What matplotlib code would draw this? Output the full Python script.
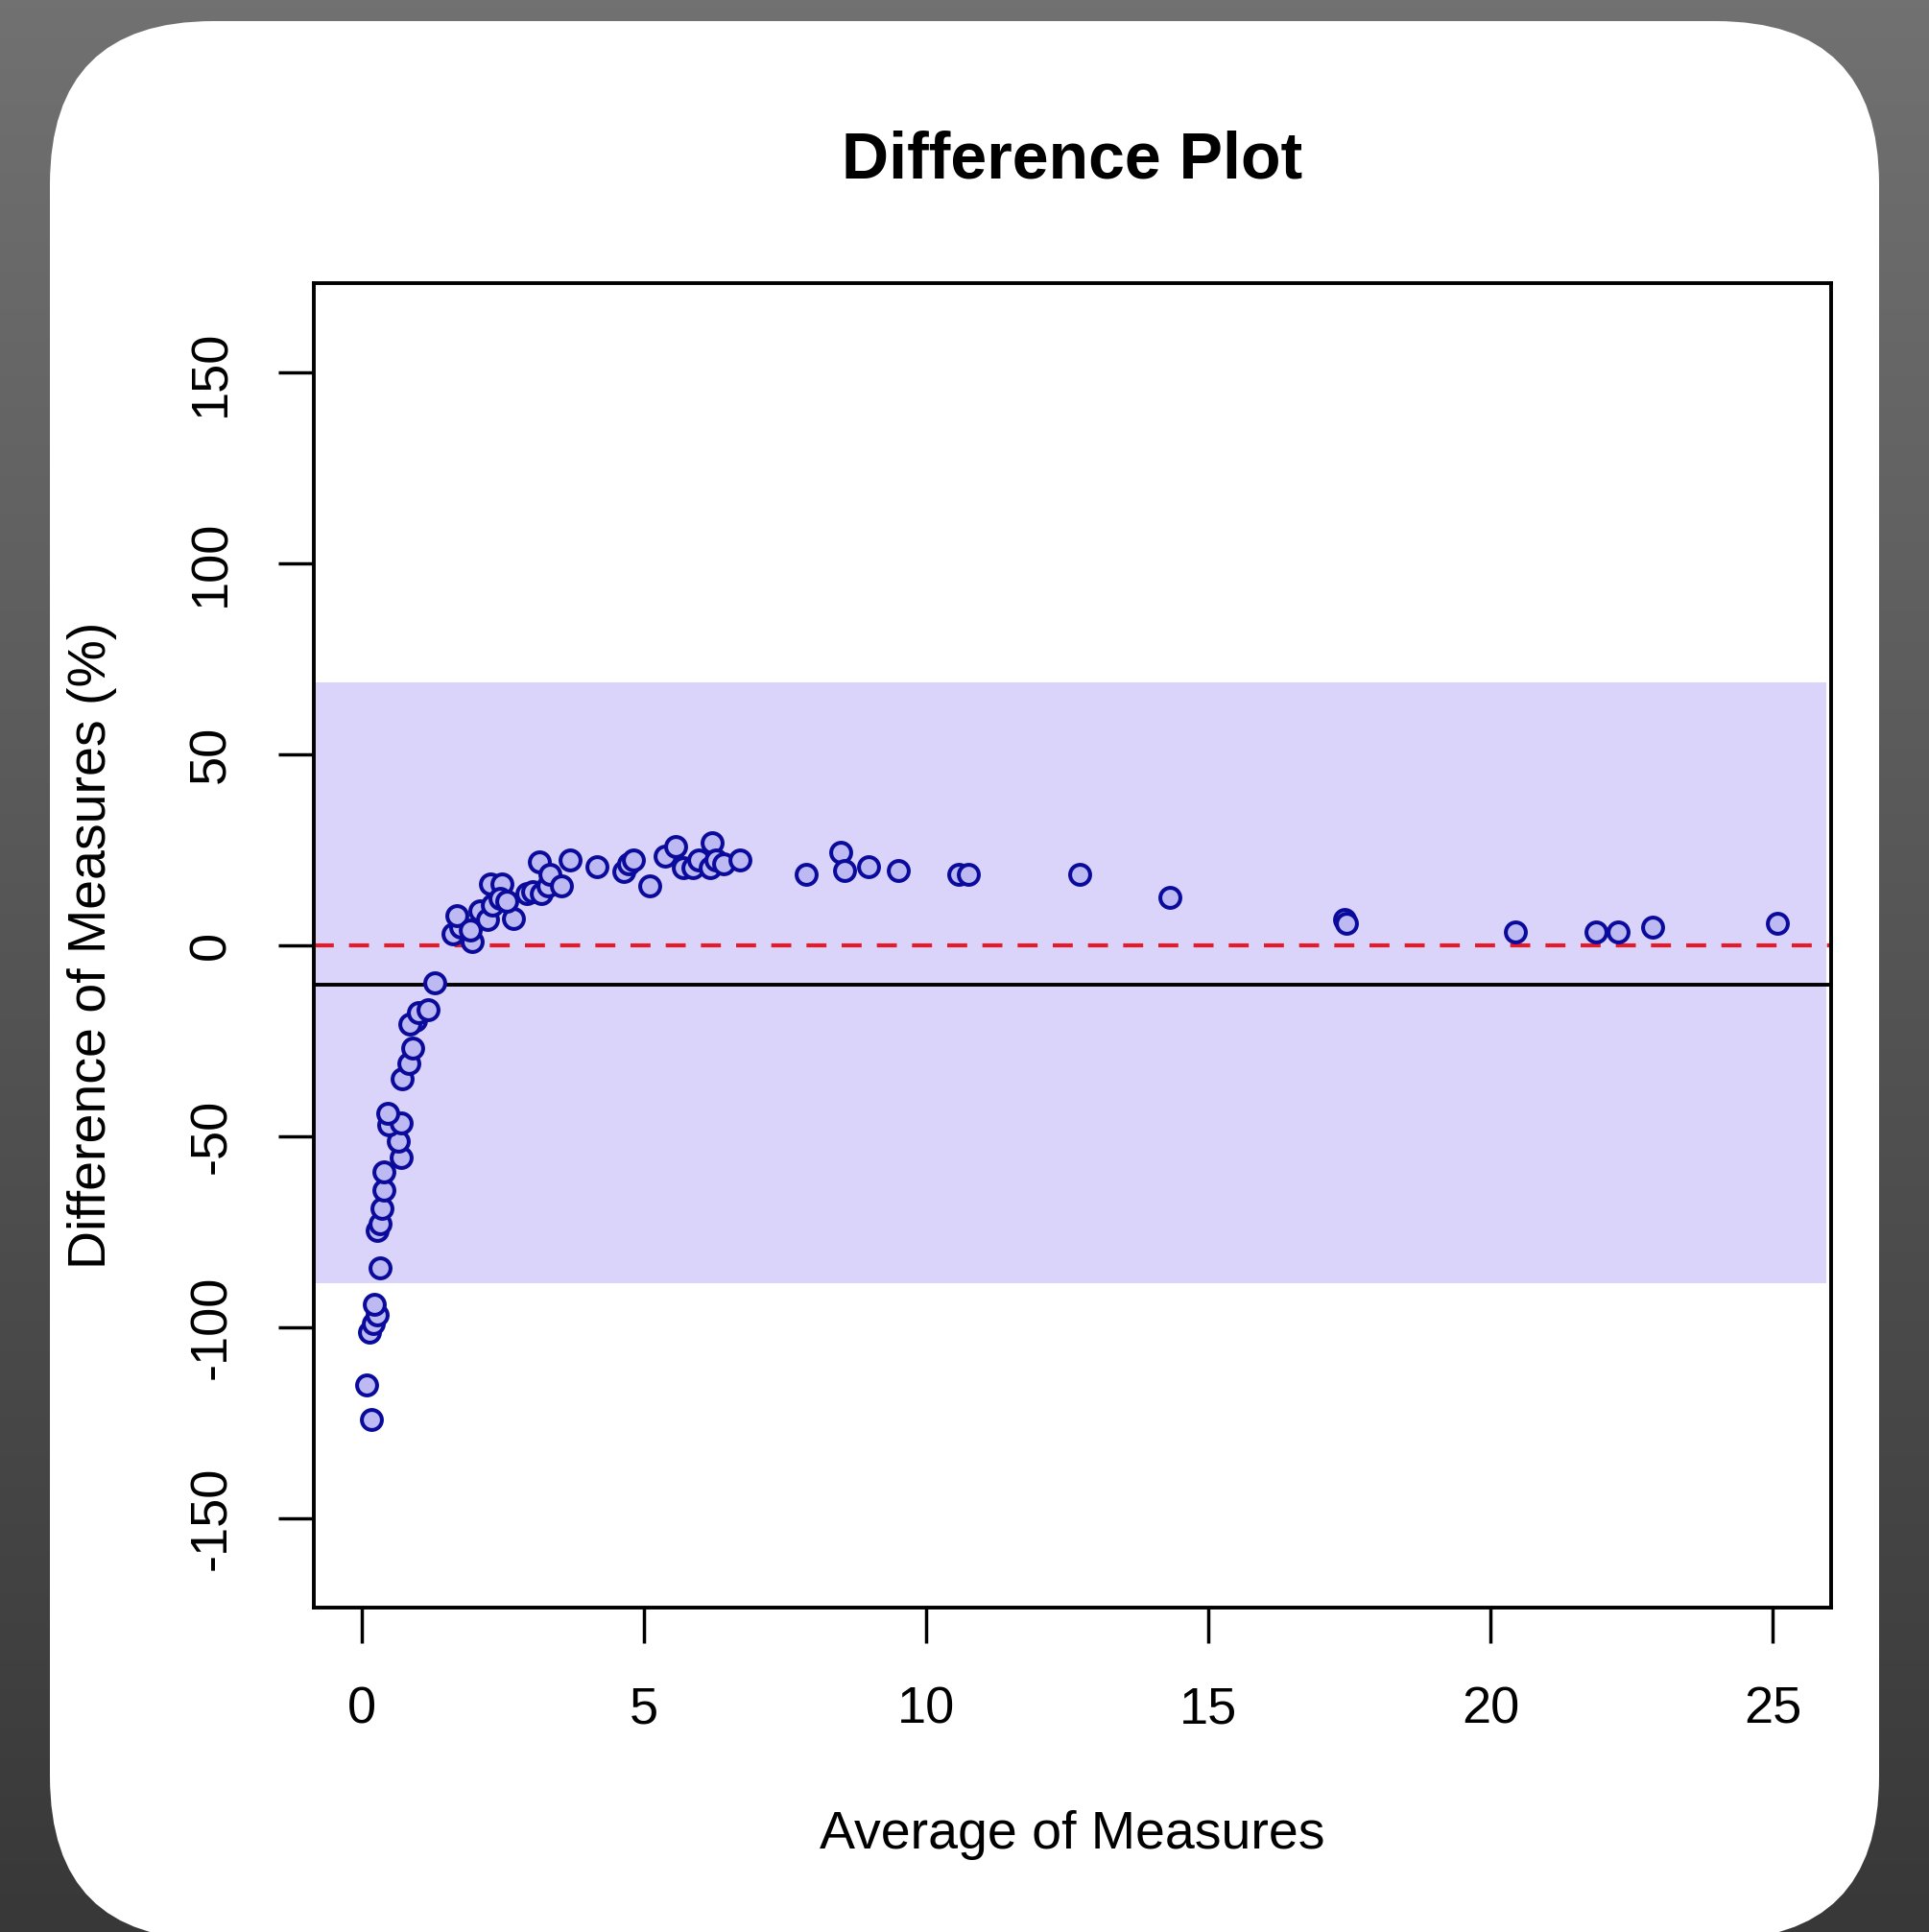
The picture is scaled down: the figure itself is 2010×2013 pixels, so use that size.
import numpy as np
import matplotlib as mpl
import matplotlib.pyplot as plt
from matplotlib.patches import FancyBboxPatch

mpl.rcParams['font.family'] = 'Liberation Sans'
mpl.rcParams['axes.unicode_minus'] = False

###############################################################################
# Data

avg_measures = [0.17, 0.09, 0.13, 0.20, 0.28, 0.22, 0.33, 0.28, 0.33, 0.35,
                0.39, 0.39, 0.70, 0.65, 0.48, 0.70, 0.46, 0.72, 0.83, 0.90,
                0.96, 0.85, 1.00, 1.18, 1.29,
                1.61, 1.75, 1.68, 1.96, 1.92, 2.09, 2.23, 2.31, 2.27, 2.49,
                2.44, 2.68, 2.57, 2.92, 3.03, 3.18, 3.14, 3.29, 3.34, 3.53,
                3.69, 4.17, 4.65, 4.73, 4.82, 5.10, 5.37, 5.56, 5.69, 5.87,
                5.96, 6.20, 6.18, 6.28, 6.41, 6.70, 7.88, 8.49, 8.55, 8.97,
                9.51, 10.58, 10.75, 12.72, 14.31, 17.41, 17.45, 20.44, 21.86,
                22.25, 22.86, 25.07]
diff_measures = [-124.2, -115.2, -101.3, -99.0, -96.8, -94.0, -84.5, -74.8,
                 -73.0, -69.0, -64.0, -59.4, -55.5, -51.3, -47.0, -46.5,
                 -44.0, -35.0, -31.0, -27.0, -19.7, -20.6, -17.7, -16.8, -9.7,
                 2.9, 4.8, 7.7, 1.0, 3.9, 9.0, 6.8, 10.6, 16.1, 16.1,
                 12.3, 7.1, 11.6, 13.5, 14.2, 13.5, 21.9, 15.5, 18.7, 15.5,
                 22.3, 20.6, 19.4, 21.3, 22.3, 15.5, 23.5, 25.8, 20.3, 20.3,
                 22.3, 26.8, 20.3, 22.3, 21.3, 22.3, 18.7, 24.5, 19.7, 20.6,
                 19.7, 18.7, 18.7, 18.7, 12.6, 6.8, 5.8, 3.5, 3.5,
                 3.5, 4.8, 5.8]

mean_diff = -10.4
loa_upper = 69.0
loa_lower = -88.5

x_ticks = [0, 5, 10, 15, 20, 25]
y_ticks = [-150, -100, -50, 0, 50, 100, 150]

###############################################################################
# Figure + background

W, H = 2010, 2013
fig = plt.figure(figsize=(W/100, H/100), dpi=100)

bg = fig.add_axes([0, 0, 1, 1], zorder=-10)
grad = np.linspace(0, 1, 256).reshape(-1, 1)
cmap = mpl.colors.LinearSegmentedColormap.from_list('bg', ['#383838', '#717171'])
bg.imshow(grad, cmap=cmap, aspect='auto', extent=[0, W, 0, H], origin='lower')
card = FancyBboxPatch((52, -8), 1906, 1999,
                      boxstyle='round,pad=0,rounding_size=170',
                      facecolor='white', edgecolor='none')
bg.add_patch(card)
bg.set_xlim(0, W)
bg.set_ylim(0, H)
bg.axis('off')

###############################################################################
# Plot

ax = fig.add_axes([327/W, 1 - 1675/H, (1908-327)/W, (1675-295)/H])
ax.set_xlim(-0.85, 26.03)
ax.set_ylim(-173.5, 173.5)

ax.axhspan(loa_lower, loa_upper, xmin=0, xmax=0.997,
           facecolor='#dad4fa', edgecolor='none', zorder=1)
ax.axhline(0, color='#e81a2a', lw=3, dashes=(5, 3.8), zorder=2)
ax.axhline(mean_diff, color='black', lw=2.8, zorder=2)

ax.plot(avg_measures, diff_measures, 'o', ms=15, mew=2.9,
        mec='#0a0a9c', mfc='#bdb9f2', zorder=3)

for s in ax.spines.values():
    s.set_linewidth(2.8)

ax.set_xticks(x_ticks)
ax.set_yticks(y_ticks)
ax.set_yticklabels([str(v) for v in y_ticks], rotation=90, va='center')
ax.tick_params(length=26.5, width=2.5, labelsize=39, pad=32, direction='out')

ax.set_xlabel('Average of Measures', fontsize=40, va='center')
ax.xaxis.set_label_coords(0.5, -0.1717)
ax.set_ylabel('Difference of Measures (%)', fontsize=40, va='center')
ax.yaxis.set_label_coords(-0.146, 0.5)

ax.set_title('Difference Plot', fontsize=49, fontweight='bold',
             y=1.0734, va='baseline')

fig.savefig('out.png', dpi=100)
